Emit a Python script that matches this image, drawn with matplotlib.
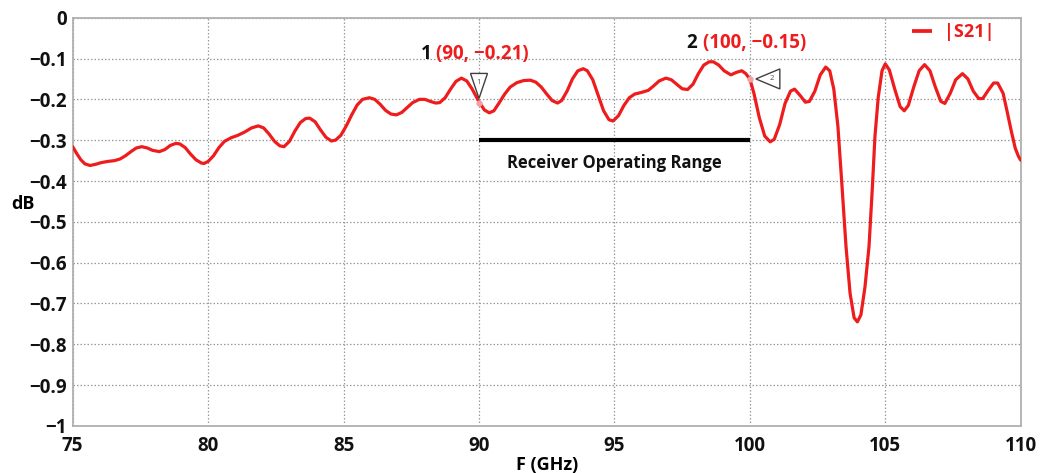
import matplotlib
matplotlib.use("Agg")
import matplotlib.pyplot as plt
from matplotlib.patches import Polygon
from matplotlib.transforms import ScaledTranslation

plt.rcParams['font.family'] = ['Open Sans', 'DejaVu Sans']
plt.rcParams['axes.unicode_minus'] = True

# |S21| measured transmission (dB) vs frequency (GHz)
freq_ghz = [
    75.00, 75.15, 75.30, 75.45, 75.64, 75.85, 76.05, 76.30, 76.55, 76.75, 76.95, 77.15,
    77.35, 77.55, 77.75, 77.95, 78.20, 78.40, 78.60, 78.80, 78.95, 79.15, 79.35, 79.55,
    79.75, 79.85, 80.00, 80.20, 80.40, 80.60, 80.85, 81.10, 81.35, 81.60, 81.85, 82.05,
    82.25, 82.45, 82.65, 82.80, 83.00, 83.20, 83.40, 83.60, 83.75, 83.95, 84.15, 84.35,
    84.55, 84.70, 84.90, 85.10, 85.30, 85.50, 85.70, 85.95, 86.15, 86.35, 86.55, 86.75,
    86.95, 87.15, 87.35, 87.55, 87.80, 88.00, 88.20, 88.40, 88.55, 88.75, 88.95, 89.15,
    89.35, 89.55, 89.75, 90.00, 90.20, 90.38, 90.55, 90.75, 90.95, 91.15, 91.40, 91.65,
    91.90, 92.10, 92.30, 92.50, 92.70, 92.90, 93.05, 93.25, 93.45, 93.65, 93.85, 94.00,
    94.20, 94.40, 94.60, 94.80, 94.95, 95.15, 95.35, 95.55, 95.75, 96.00, 96.25, 96.45,
    96.65, 96.90, 97.10, 97.30, 97.50, 97.70, 97.90, 98.10, 98.30, 98.50, 98.65, 98.85,
    99.05, 99.30, 99.50, 99.70, 99.85, 100.00, 100.15, 100.35, 100.55, 100.75, 100.90,
    101.10, 101.30, 101.50, 101.65, 101.85, 102.05, 102.20, 102.40, 102.60, 102.80,
    102.95, 103.10, 103.25, 103.40, 103.55, 103.70, 103.85, 103.97, 104.10, 104.25,
    104.40, 104.52, 104.62, 104.74, 104.88, 105.00, 105.15, 105.35, 105.55, 105.70,
    105.85, 106.05, 106.25, 106.45, 106.65, 106.85, 107.05, 107.20, 107.40, 107.60,
    107.85, 108.05, 108.25, 108.45, 108.60, 108.80, 109.00, 109.15, 109.35, 109.50,
    109.65, 109.80, 109.92, 110.00,
]
s21_db = [
    -0.316, -0.333, -0.348, -0.358, -0.362, -0.359, -0.355, -0.352, -0.350, -0.346, -0.338, -0.328,
    -0.319, -0.316, -0.319, -0.325, -0.328, -0.323, -0.313, -0.308, -0.309, -0.318, -0.334, -0.348,
    -0.356, -0.357, -0.352, -0.338, -0.318, -0.303, -0.294, -0.288, -0.280, -0.270, -0.265, -0.270,
    -0.285, -0.303, -0.314, -0.316, -0.303, -0.278, -0.257, -0.247, -0.246, -0.255, -0.275, -0.293,
    -0.302, -0.300, -0.288, -0.265, -0.238, -0.214, -0.200, -0.196, -0.200, -0.212, -0.227, -0.236,
    -0.238, -0.232, -0.220, -0.208, -0.200, -0.200, -0.205, -0.209, -0.208, -0.196, -0.175, -0.156,
    -0.148, -0.155, -0.175, -0.206, -0.226, -0.233, -0.228, -0.208, -0.187, -0.170, -0.159, -0.154,
    -0.153, -0.158, -0.170, -0.187, -0.203, -0.209, -0.203, -0.180, -0.150, -0.130, -0.125, -0.130,
    -0.152, -0.190, -0.228, -0.250, -0.253, -0.240, -0.215, -0.196, -0.187, -0.183, -0.178, -0.167,
    -0.155, -0.148, -0.152, -0.163, -0.174, -0.176, -0.163, -0.137, -0.116, -0.108, -0.108, -0.116,
    -0.130, -0.140, -0.134, -0.130, -0.137, -0.150, -0.185, -0.245, -0.290, -0.304, -0.298,
    -0.262, -0.210, -0.180, -0.175, -0.190, -0.207, -0.205, -0.180, -0.140, -0.121,
    -0.130, -0.175, -0.265, -0.410, -0.560, -0.675, -0.735, -0.745, -0.728, -0.660,
    -0.560, -0.420, -0.290, -0.195, -0.130, -0.113, -0.128, -0.175, -0.218, -0.228,
    -0.215, -0.170, -0.130, -0.115, -0.130, -0.170, -0.205, -0.210, -0.185, -0.152,
    -0.137, -0.150, -0.180, -0.198, -0.198, -0.178, -0.160, -0.160, -0.185, -0.230,
    -0.277, -0.320, -0.340, -0.349,
]

# Marker readouts
marker_ids = ["1", "2"]
marker_freq = [90, 100]
marker_db = [-0.21, -0.15]

# Receiver operating band
band_start, band_stop, band_level = 90, 100, -0.3
band_label = "Receiver Operating Range"

x_ticks = [75, 80, 85, 90, 95, 100, 105, 110]
y_ticks = [0, -0.1, -0.2, -0.3, -0.4, -0.5, -0.6, -0.7, -0.8, -0.9, -1]

RED = "#ee1c1c"
GRID = "#9a9a9a"

fig = plt.figure(figsize=(10.54, 4.73), dpi=100)
ax = fig.add_axes([0.069, 0.0994, 0.8994, 0.8632])

ax.plot(freq_ghz, s21_db, color=RED, lw=2.3, solid_joinstyle="round",
        solid_capstyle="round", zorder=3)

ax.plot([band_start, band_stop], [band_level, band_level], color="black",
        lw=3.0, solid_capstyle="butt", zorder=3)
ax.text((band_start + band_stop) / 2, band_level - 0.057, band_label,
        ha="center", va="center", fontsize=12, fontweight="bold", color="#111111")

# Marker triangles (sizes in inches), apex pointing at the curve point
tri_shapes = [
    [(0.0, 0.05), (-0.085, 0.30), (0.085, 0.30)],   # pointing down, above the point
    [(0.06, 0.0), (0.30, 0.10), (0.30, -0.10)],     # pointing left, right of the point
]
label_offsets = [(0.0, 0.21), (0.22, 0.0)]
for mid, fx, db, verts, loff in zip(marker_ids, marker_freq, marker_db,
                                     tri_shapes, label_offsets):
    tr = fig.dpi_scale_trans + ScaledTranslation(fx, db, ax.transData)
    ax.add_patch(Polygon(verts, closed=True, transform=tr, facecolor="white",
                         edgecolor="#404040", lw=1.0, zorder=4, clip_on=False))
    ax.text(loff[0], loff[1], mid, transform=tr, ha="center", va="center",
            fontsize=5.5, color="#505050", zorder=5)
    ax.plot(fx, db, marker="o", ms=3.5, mfc="#f4a0a0", mec="#f4a0a0", ls="none", zorder=5)

# Marker readout labels
for mid, fx, db, xpos, ypos in zip(marker_ids, marker_freq, marker_db,
                                    [87.85, 97.68], [-0.089, -0.063]):
    t = ax.text(xpos, ypos, mid + " ", ha="left", va="center", fontsize=13.5,
                fontweight="bold", color="#111111")
    ax.annotate(f"({fx}, \u2212{abs(db):.2f})", xy=(1, 0.5), xycoords=t,
                ha="left", va="center", fontsize=13.5, fontweight="bold", color=RED)

# Legend
ax.plot([105.97, 106.74], [-0.032, -0.032], color=RED, lw=2.7, solid_capstyle="butt")
ax.text(107.15, -0.036, "|S21|", ha="left", va="center", fontsize=13,
        fontweight="bold", color=RED)

ax.set_xlim(75, 110)
ax.set_ylim(-1, 0)
ax.set_xticks(x_ticks)
ax.set_yticks(y_ticks)
ax.set_xticklabels([str(v) for v in x_ticks])
ax.set_yticklabels(["0" if v == 0 else ("\u22121" if v == -1 else f"\u2212{abs(v):.1f}")
                    for v in y_ticks])
ax.tick_params(axis="y", length=0, labelsize=13.5, pad=4)
ax.tick_params(axis="x", length=0, labelsize=13.5, pad=7)
for lab in ax.get_xticklabels() + ax.get_yticklabels():
    lab.set_fontweight("bold")
    lab.set_color("#111111")

ax.grid(True, color=GRID, ls=(0, (1.2, 1.6)), lw=0.9)
for sp in ax.spines.values():
    sp.set_color("#b0b0b0")
    sp.set_linewidth(1.3)

ax.set_xlabel("F (GHz)", fontsize=13, fontweight="bold", labelpad=0)
ax.set_ylabel("dB", fontsize=13, fontweight="bold", rotation=0, va="center", ha="center")
ax.yaxis.set_label_coords(-0.052, 0.543)

fig.savefig("out.png", dpi=100)
